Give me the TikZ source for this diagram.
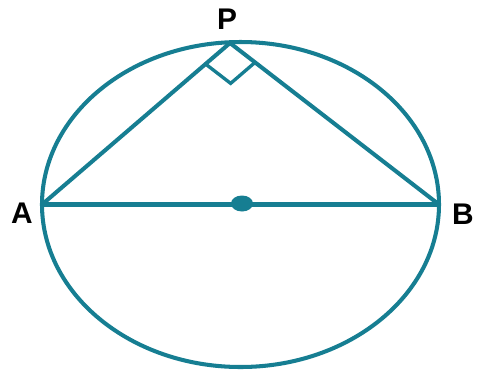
\documentclass[tikz,border=0pt]{standalone}
\usepackage{fontspec}
\setmainfont{Liberation Sans}
\usetikzlibrary{calc}

\begin{document}
\begin{tikzpicture}[
        x=0.02cm, y=-0.02cm,
        line/.style={draw=teal, line width=2.3pt},
        label/.style={font=\bfseries\fontsize{17}{17}\selectfont, inner sep=0pt}
    ]
    \definecolor{teal}{RGB}{22,126,146}
    \useasboundingbox (0,0) rectangle (477,373);

    \coordinate (O) at (240.5,204.5);
    \coordinate (A) at (42,204.5);
    \coordinate (B) at (439,204.5);
    \coordinate (P) at (230,43);
    \coordinate (D) at (242,203.5);

    \draw[line] (O) ellipse [x radius=198.5, y radius=162.5];
    \draw[line] (A) -- (B);
    \draw[line] (A) -- (P) -- (B);

    % right angle at P
    \coordinate (M1) at ($(P)!0.13!(A)$);
    \coordinate (M2) at ($(P)!0.12!(B)$);
    \draw[line, line width=1.9pt] (M1) -- ($(M1)+(M2)-(P)$) -- (M2);

    \fill[teal] (D) ellipse [x radius=11, y radius=8];

    \node[label] (lA) at (22,213) {A};
    \node[label] (lB) at (463,214) {B};
    \node[label] (lP) at (227,19) {P};
\end{tikzpicture}
\end{document}
